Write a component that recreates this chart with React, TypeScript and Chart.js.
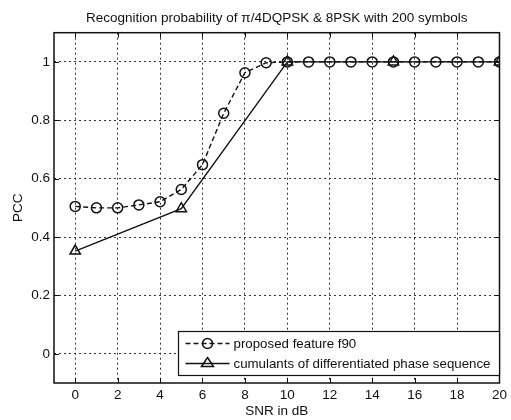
import React, { useEffect, useRef } from "react";
import { Chart, registerables } from "chart.js";

Chart.register(...registerables);

const TITLE = "Recognition probability of π/4DQPSK & 8PSK with 200 symbols";
const X_LABEL = "SNR in dB";
const Y_LABEL = "PCC";

const SNR_F90 = [0, 1, 2, 3, 4, 5, 6, 7, 8, 9, 10, 11, 12, 13, 14, 15, 16, 17, 18, 19, 20];
const PCC_F90 = [0.505, 0.5, 0.5, 0.51, 0.521, 0.563, 0.648, 0.824, 0.963, 0.997, 1, 1, 1, 1, 1, 1, 1, 1, 1, 1, 1];

const SNR_CUM = [0, 5, 10, 15, 20];
const PCC_CUM = [0.352, 0.497, 1, 1, 1];

const X_TICKS = [0, 2, 4, 6, 8, 10, 12, 14, 16, 18, 20];
const Y_TICKS = [0, 0.2, 0.4, 0.6, 0.8, 1];

const LEGEND_LABELS = ["proposed feature f90", "cumulants of differentiated phase sequence"];

const FONT = "'Liberation Sans', Arial, Helvetica, sans-serif";
const INK = "#111";

function drawMarker(ctx: CanvasRenderingContext2D, style: string, x: number, y: number, r: number) {
  ctx.beginPath();
  if (style === "triangle") {
    ctx.moveTo(x, y - r);
    ctx.lineTo(x + r, y + r * 0.5);
    ctx.lineTo(x - r, y + r * 0.5);
    ctx.closePath();
  } else {
    ctx.arc(x, y, r, 0, Math.PI * 2);
  }
  ctx.stroke();
}

const framePlugin = {
  id: "matlabFrame",
  afterDraw(chart: any) {
    const { ctx, chartArea: a, scales } = chart;
    const xs = scales.x;
    const ys = scales.y;
    ctx.save();
    ctx.setLineDash([]);
    ctx.strokeStyle = INK;
    ctx.lineWidth = 1;
    const tl = 5;
    ctx.beginPath();
    X_TICKS.forEach((v) => {
      const px = Math.round(xs.getPixelForValue(v)) + 0.5;
      ctx.moveTo(px, a.bottom);
      ctx.lineTo(px, a.bottom - tl);
      ctx.moveTo(px, a.top);
      ctx.lineTo(px, a.top + tl);
    });
    Y_TICKS.forEach((v) => {
      const py = Math.round(ys.getPixelForValue(v)) + 0.5;
      ctx.moveTo(a.left, py);
      ctx.lineTo(a.left + tl, py);
      ctx.moveTo(a.right, py);
      ctx.lineTo(a.right - tl, py);
    });
    ctx.stroke();
    ctx.lineWidth = 1.5;
    ctx.strokeRect(a.left, a.top, a.right - a.left, a.bottom - a.top);

    // legend box
    const bx = 178.5;
    const by = 331.5;
    const bw = 321;
    const bh = 44;
    ctx.fillStyle = "#fff";
    ctx.fillRect(bx, by, bw, bh);
    ctx.lineWidth = 1.2;
    ctx.strokeRect(bx, by, bw, bh);
    const rows = [by + 12, by + 32];
    chart.data.datasets.forEach((ds: any, i: number) => {
      const y = rows[i];
      ctx.save();
      ctx.strokeStyle = ds.borderColor;
      ctx.lineWidth = ds.borderWidth;
      ctx.setLineDash(ds.borderDash || []);
      ctx.beginPath();
      ctx.moveTo(bx + 7, y);
      ctx.lineTo(bx + 51, y);
      ctx.stroke();
      ctx.restore();
      ctx.save();
      ctx.strokeStyle = ds.pointBorderColor;
      ctx.lineWidth = ds.pointBorderWidth;
      ctx.setLineDash([]);
      drawMarker(ctx, ds.pointStyle, bx + 29, y, ds.pointRadius);
      ctx.restore();
      ctx.fillStyle = INK;
      ctx.font = `13.3px ${FONT}`;
      ctx.textBaseline = "middle";
      ctx.textAlign = "left";
      ctx.fillText(LEGEND_LABELS[i], bx + 55, y + 0.5);
    });
    ctx.restore();
  },
};

export default function App() {
  const ref = useRef<HTMLCanvasElement | null>(null);
  useEffect(() => {
    document.body.style.margin = "0";
    if (!ref.current) return;
    Chart.defaults.font.family = FONT;
    const chart = new Chart(ref.current, {
      type: "scatter",
      data: {
        datasets: [
          {
            label: LEGEND_LABELS[0],
            data: SNR_F90.map((x, i) => ({ x, y: PCC_F90[i] })),
            showLine: true,
            borderColor: INK,
            borderWidth: 1.4,
            borderDash: [5, 3],
            pointStyle: "circle",
            pointRadius: 5,
            pointBorderWidth: 1.5,
            pointBorderColor: INK,
            pointBackgroundColor: "rgba(0,0,0,0)",
            backgroundColor: "rgba(0,0,0,0)",
          } as any,
          {
            label: LEGEND_LABELS[1],
            data: SNR_CUM.map((x, i) => ({ x, y: PCC_CUM[i] })),
            showLine: true,
            borderColor: INK,
            borderWidth: 1.4,
            pointStyle: "triangle",
            pointRadius: 6,
            pointBorderWidth: 1.5,
            pointBorderColor: INK,
            pointBackgroundColor: "rgba(0,0,0,0)",
            backgroundColor: "rgba(0,0,0,0)",
          } as any,
        ],
      },
      options: {
        animation: false,
        responsive: false,
        devicePixelRatio: 1,
        layout: { padding: { left: 0, right: 7, top: 0, bottom: 0 } },
        plugins: {
          legend: { display: false },
          tooltip: { enabled: false },
          title: {
            display: true,
            fullSize: false,
            text: TITLE,
            color: INK,
            font: { size: 13.5, weight: "normal", family: FONT },
            padding: { top: 10, bottom: 6.5 },
          },
        },
        scales: {
          x: {
            type: "linear",
            min: -1,
            max: 20,
            afterBuildTicks: (s: any) => {
              s.ticks = X_TICKS.map((v) => ({ value: v }));
            },
            afterFit: (s: any) => {
              s.height = 37;
            },
            ticks: {
              color: INK,
              font: { size: 13.5, family: FONT },
              padding: 4,
              maxRotation: 0,
              autoSkip: false,
              callback: (v: any) => String(v),
            },
            grid: {
              color: "#333",
              lineWidth: 1,
              drawTicks: false,
            },
            border: { display: false, dash: [2, 3] },
            title: {
              display: true,
              text: X_LABEL,
              color: INK,
              font: { size: 13.5, family: FONT },
              padding: { top: 0, bottom: 1 },
            },
          },
          y: {
            type: "linear",
            min: -0.1,
            max: 1.1,
            afterBuildTicks: (s: any) => {
              s.ticks = Y_TICKS.map((v) => ({ value: v }));
            },
            afterFit: (s: any) => {
              s.width = 54;
            },
            ticks: {
              color: INK,
              font: { size: 13.5, family: FONT },
              padding: 4,
              autoSkip: false,
              callback: (v: any) => String(Math.round(v * 10) / 10),
            },
            grid: {
              color: "#333",
              lineWidth: 1,
              drawTicks: false,
            },
            border: { display: false, dash: [2, 3] },
            title: {
              display: true,
              text: Y_LABEL,
              color: INK,
              font: { size: 13.5, family: FONT },
              padding: { top: 10, bottom: 0 },
            },
          },
        },
      } as any,
      plugins: [framePlugin],
    });
    return () => chart.destroy();
  }, []);
  return (
    <div style={{ width: 511, height: 420, background: "#fff" }}>
      <canvas ref={ref} width={511} height={420} />
    </div>
  );
}
